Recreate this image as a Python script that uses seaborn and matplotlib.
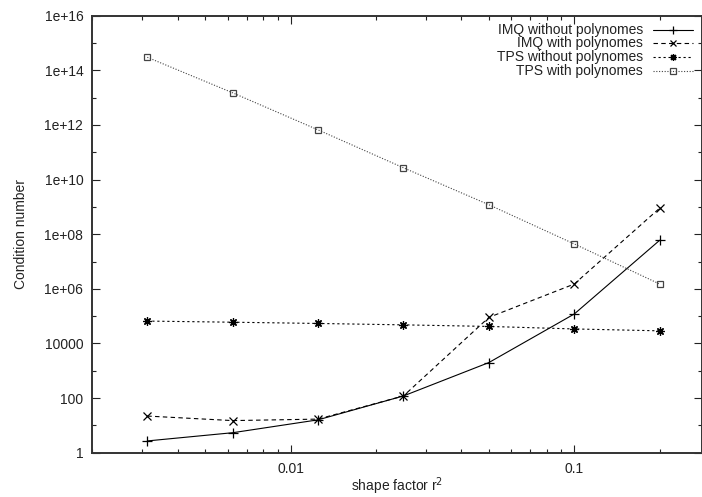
import numpy as np
import pandas as pd
import seaborn as sns
import matplotlib.pyplot as plt
from matplotlib.ticker import FixedLocator, FixedFormatter, NullFormatter

# shape factor values (x axis)
shape = [0.003125, 0.00625, 0.0125, 0.025, 0.05, 0.1, 0.2]

# condition numbers
imq_without = [2.7, 5.4, 16, 120, 2000, 1.2e5, 6e7]
imq_with = [22, 15, 17, 120, 9e4, 1.5e6, 9e8]
tps_without = [6.6e4, 6e4, 5.4e4, 4.8e4, 4.2e4, 3.4e4, 2.9e4]
tps_with = [3e14, 1.5e13, 6.6e11, 2.7e10, 1.2e9, 4.4e7, 1.5e6]

series_names = ['IMQ without polynomes', 'IMQ with polynomes',
                'TPS without polynomes', 'TPS with polynomes']

y_major = [1, 1e2, 1e4, 1e6, 1e8, 1e10, 1e12, 1e14, 1e16]
y_labels = ['1', '100', '10000', '1e+06', '1e+08', '1e+10', '1e+12', '1e+14', '1e+16']
y_minor = [1e1, 1e3, 1e5, 1e7, 1e9, 1e11, 1e13, 1e15]
x_major = [0.01, 0.1]
x_labels = ['0.01', '0.1']

sns.set_style('ticks')
plt.rcParams['font.family'] = ['Liberation Sans', 'DejaVu Sans']

fig = plt.figure(figsize=(7.02, 4.97), dpi=100)
ax = fig.add_axes([0.1315, 0.0891, 0.8685, 0.8793])

styles = [
    dict(marker='+', dash='', ls='-', color='black', ms=7),
    dict(marker='x', dash=(4, 3), ls=(0, (4, 3)), color='black', ms=5.5),
    dict(marker=(8, 2, 0), dash=(2, 2.5), ls=(0, (2, 2.5)), color='black', ms=6),
    dict(marker='s', dash=(1, 1.5), ls=(0, (1, 1.5)), color='#444444', ms=5),
]

long = pd.DataFrame({
    'shape': shape * len(series_names),
    'cond': imq_without + imq_with + tps_without + tps_with,
    'series': [n for n in series_names for _ in shape],
})

for name, st in zip(series_names, styles):
    sub = long[long['series'] == name]
    face = 'none' if st['marker'] == 's' else st['color']
    sns.lineplot(data=sub, x='shape', y='cond', style='series', ax=ax,
                 markers={name: st['marker']}, dashes={name: st['dash']},
                 color=st['color'], lw=0.8, ms=st['ms'], mew=0.9,
                 mec=st['color'], mfc=face, legend=False)

ax.set_xscale('log')
ax.set_yscale('log')
ax.set_xlim(0.002, 0.282)
ax.set_ylim(1, 1e16)

ax.yaxis.set_major_locator(FixedLocator(y_major))
ax.yaxis.set_major_formatter(FixedFormatter(y_labels))
ax.yaxis.set_minor_locator(FixedLocator(y_minor))
ax.yaxis.set_minor_formatter(NullFormatter())
ax.xaxis.set_major_locator(FixedLocator(x_major))
ax.xaxis.set_major_formatter(FixedFormatter(x_labels))

ax.tick_params(which='both', direction='in', top=True, right=True,
               labelsize=10, colors='#222222', pad=6.5)
ax.tick_params(which='major', length=6, width=0.8)
ax.tick_params(which='minor', length=3, width=0.8)

for sp in ax.spines.values():
    sp.set_linewidth(1.4)
    sp.set_color('#333333')

ax.set_xlabel('shape factor r$^2$', fontsize=10, color='#222222', labelpad=0)
ax.set_ylabel('Condition number', fontsize=10, color='#222222', labelpad=12)

# legend drawn by hand: right-aligned text, sample to the right
for i, (name, st) in enumerate(zip(series_names, styles)):
    yy = 1 - (14 + i * 13.7) / 437
    ax.text(0.903, yy, name, transform=ax.transAxes, ha='right', va='center',
            fontsize=10, color='#222222')
    ax.plot([0.920, 0.986], [yy, yy], transform=ax.transAxes, color=st['color'],
            linestyle=st['ls'], lw=0.8, clip_on=False)
    ax.plot([0.953], [yy], transform=ax.transAxes, color=st['color'],
            marker=st['marker'], ms=st['ms'] - 1, mew=0.9,
            mfc='none' if st['marker'] == 's' else st['color'],
            linestyle='none', clip_on=False)

fig.savefig('out.png', dpi=100)
